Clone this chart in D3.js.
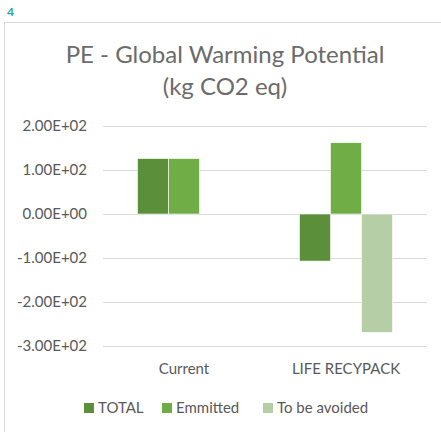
<!DOCTYPE html>
<html>
<head>
<meta charset="utf-8">
<script src="https://cdn.jsdelivr.net/npm/d3@7"></script>
<style>
    html, body { margin: 0; padding: 0; background: #fff; }
    svg { display: block; font-family: Lato, "Open Sans", sans-serif; }
    .grid line { stroke: #d9d9d9; stroke-width: 1; shape-rendering: crispEdges; }
    .grid path { display: none; }
    .axis path, .axis line { display: none; }
    .axis text { fill: #595959; font-size: 15px; font-family: Lato, "Open Sans", sans-serif; }
</style>
</head>
<body>
<svg id="chart" width="441" height="432"></svg>
<script>

/*    ========    DATA    =========    */

var categories = ["Current", "LIFE RECYPACK"];
var seriesNames = ["TOTAL", "Emmitted", "To be avoided"];
var seriesColors = ["#5b8f3a", "#70ad47", "#b5cea6"];

var totalValues = [126, -107];
var emmittedValues = [126, 162];
var avoidedValues = [0, -269];

var yTicks = [-300, -200, -100, 0, 100, 200];
var Y_RANGE = [-300, 200];

/*    ========    SETTINGS    =========    */

var svg = d3.select('#chart');
var width = 441;
var height = 432;

var plot = { left: 103, right: 427, top: 126, bottom: 346 };

/*    ========    FUNCTIONS    =========    */

function format(num) {
    // Excel style "1.00E+02"
    var s = num.toExponential(2).toUpperCase();
    var parts = s.split("E");
    var exp = parseInt(parts[1], 10);
    var sign = exp < 0 ? "-" : "+";
    var e = Math.abs(exp);
    return parts[0] + "E" + sign + (e < 10 ? "0" + e : e);
}

// == Frame and titles == //

svg.append("text")
    .attr("x", 7)
    .attr("y", 16)
    .style("font-size", "12px")
    .style("font-weight", "bold")
    .style("fill", "#2aa89b")
    .text("4");

svg.append("rect")
    .attr("x", 4.5)
    .attr("y", 22.5)
    .attr("width", width)
    .attr("height", height)
    .style("fill", "none")
    .style("stroke", "#d9d9d9");

var title = svg.append("text")
    .attr("text-anchor", "middle")
    .style("font-size", "24px")
    .style("fill", "#6b6b6b");
title.append("tspan").attr("x", 225).attr("y", 63).text("PE - Global Warming Potential");
title.append("tspan").attr("x", 225).attr("y", 95).text("(kg CO2 eq)");

// == Scales == //

var scale_x = d3.scaleBand()
    .domain(categories)
    .range([plot.left, plot.right])
    .paddingInner(0.426)
    .paddingOuter(0.213);

var scale_s = d3.scaleBand()
    .domain(seriesNames)
    .range([0, scale_x.bandwidth()]);

var scale_y = d3.scaleLinear()
    .domain(Y_RANGE)
    .range([plot.bottom, plot.top]);

var color = d3.scaleOrdinal()
    .domain(seriesNames)
    .range(seriesColors);

// gridlines
svg.append("g")
    .attr("class", "grid")
    .attr("transform", "translate(" + plot.left + ",0)")
    .call(d3.axisLeft(scale_y)
        .tickValues(yTicks)
        .tickSize(-(plot.right - plot.left))
        .tickFormat("")
    );

// y axis labels
svg.append("g")
    .attr("class", "axis")
    .attr("transform", "translate(" + (plot.left - 16) + ",0)")
    .call(d3.axisLeft(scale_y)
        .tickValues(yTicks)
        .tickSize(0)
        .tickPadding(0)
        .tickFormat(format)
    );

// category labels
svg.append("g")
    .attr("class", "axis")
    .attr("transform", "translate(0," + (plot.bottom + 17) + ")")
    .call(d3.axisBottom(scale_x)
        .tickSize(0)
        .tickPadding(0)
    );

// d3 puts its own font on axes, take it back
svg.selectAll(".axis").attr("font-family", null).attr("font-size", null);

// == Bars == //

var table = seriesNames.map(function(name, i) {
    var vals = [totalValues, emmittedValues, avoidedValues][i];
    return { name: name, values: categories.map(function(c, j) {
        return { category: c, value: vals[j] };
    }) };
});

var groups = svg.append("g")
    .attr("id", "bars")
    .selectAll("g")
    .data(table)
    .enter().append("g")
    .style("fill", function(d) { return color(d.name); });

groups.selectAll("rect")
    .data(function(d) { return d.values.map(function(v) { v.name = d.name; return v; }); })
    .enter().append("rect")
    .filter(function(d) { return d.value !== 0; })
    .attr("x", function(d) { return scale_x(d.category) + scale_s(d.name); })
    .attr("width", scale_s.bandwidth())
    .attr("y", function(d) { return scale_y(Math.max(0, d.value)); })
    .attr("height", function(d) { return Math.abs(scale_y(d.value) - scale_y(0)); })
    .style("stroke", "#fff")
    .style("stroke-width", 0.6);

// == Legend == //

var legendX = [84, 162, 263];

var legend = svg.append("g")
    .attr("id", "legend")
    .selectAll("g")
    .data(seriesNames)
    .enter().append("g")
    .attr("transform", function(d, i) { return "translate(" + legendX[i] + ",403)"; });

legend.append("rect")
    .attr("width", 10)
    .attr("height", 10)
    .style("fill", function(d) { return color(d); });

legend.append("text")
    .attr("x", 14)
    .attr("y", 10)
    .style("font-size", "15px")
    .style("fill", "#595959")
    .text(function(d) { return d; });

</script>
</body>
</html>
